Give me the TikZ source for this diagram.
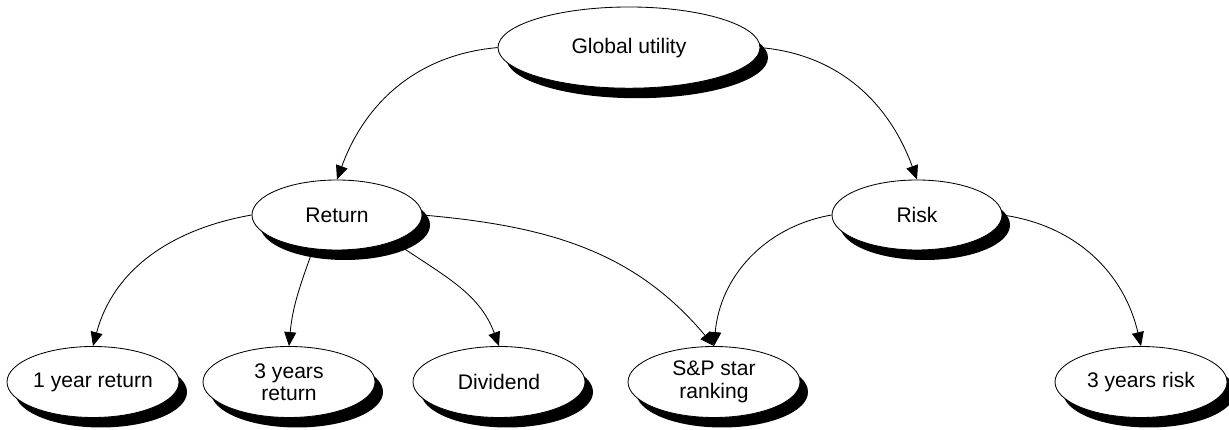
\documentclass[tikz,border=0pt]{standalone}
\usepackage{fontspec}
\setmainfont{Liberation Sans}
\usetikzlibrary{shapes.geometric,shadows,arrows.meta,backgrounds}

\begin{document}
\begin{tikzpicture}[
	crit/.style={ellipse, draw, line width=0.6pt, fill=white, inner sep=0pt, align=center,
		minimum width=4.3cm, minimum height=1.775cm, font=\fontsize{15}{16}\selectfont,
		drop shadow={shadow xshift=0.2cm, shadow yshift=-0.25cm, fill=black, opacity=1}},
	link/.style={-{Triangle[length=0.35cm,width=0.3cm]}, line width=0.6pt}
	]
	\useasboundingbox (0,0) rectangle (30.725,10.75);
	
	% Top criterion
	\node[crit, minimum width=6.55cm, minimum height=2.03cm] (glob) at (15.725,9.56) {Global utility};
	
	% Sub-criteria
	\node[crit, minimum width=4.25cm, minimum height=1.75cm] (ret) at (8.425,5.375) {Return};
	\node[crit, minimum width=4.25cm, minimum height=1.75cm] (risk) at (22.925,5.375) {Risk};
	
	% Indicators
	\node[crit] (oneyr) at (2.325,1.2) {1 year return};
	\node[crit] (threeyr) at (7.225,1.2) {3 years\\return};
	\node[crit] (divid) at (12.475,1.2) {Dividend};
	\node[crit] (spstar) at (17.85,1.2) {S\&P star\\ranking};
	\node[crit] (riskthree) at (28.525,1.2) {3 years risk};
	
	% Links, kept under the shadows
	\begin{scope}[on background layer]
		\draw[link] (glob.west) to[out=185, in=70] (ret.north);
		\draw[link] (glob.east) to[out=-5, in=110] (risk.north);
		\draw[link] (ret.west) to[out=190, in=75] (oneyr.north);
		\draw[link] (ret.235) to[out=-110, in=85] (threeyr.north);
		\draw[link] (ret.-25) to[out=-35, in=110] (divid.north);
		\draw[link] (ret.east) to[out=-5, in=130] (spstar.north);
		\draw[link] (risk.west) to[out=190, in=85] (spstar.north);
		\draw[link] (risk.east) to[out=-8, in=103] (riskthree.north);
	\end{scope}
	
\end{tikzpicture}
\end{document}
